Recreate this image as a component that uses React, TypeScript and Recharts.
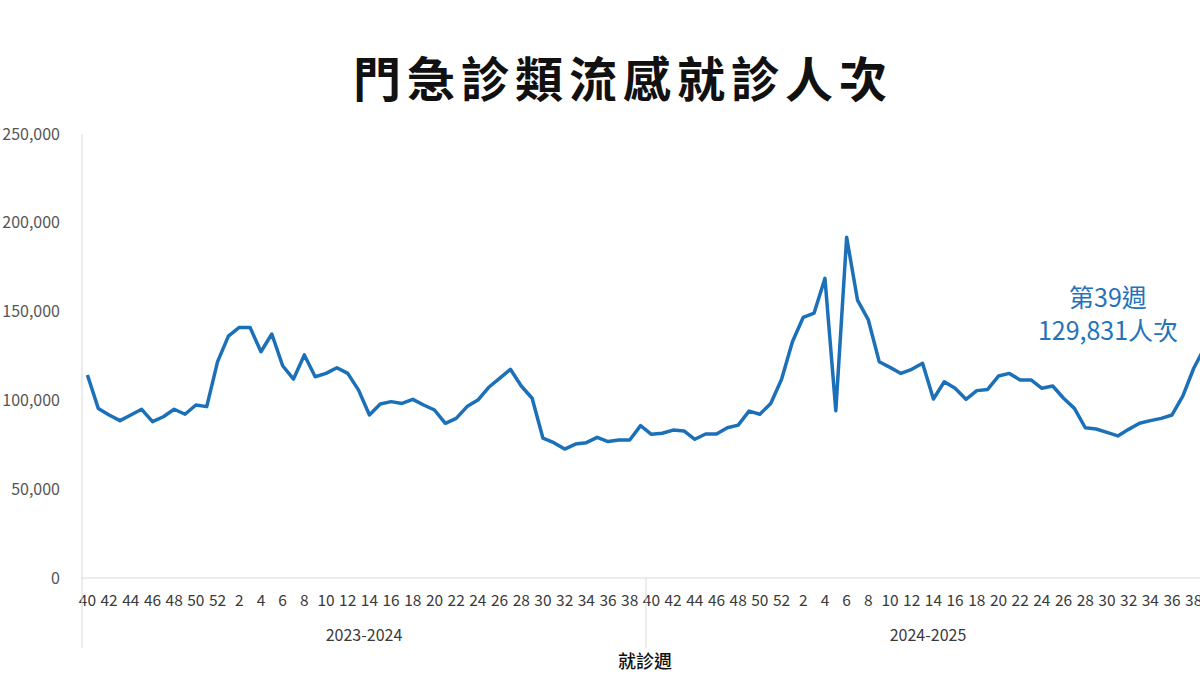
import React from 'react'
import { LineChart, Line, XAxis, YAxis } from 'recharts'

// flu-like illness ER/outpatient visits, two seasons, week 40 -> week 39
const seasons = ['2023-2024', '2024-2025']
const weeks = [
  40, 41, 42, 43, 44, 45, 46, 47, 48, 49, 50, 51, 52,
  1, 2, 3, 4, 5, 6, 7, 8, 9, 10, 11, 12, 13, 14, 15, 16, 17, 18, 19, 20,
  21, 22, 23, 24, 25, 26, 27, 28, 29, 30, 31, 32, 33, 34, 35, 36, 37, 38, 39,
]
const visits2324 = [
  114300, 95500, 91800, 88600, 91800, 95000, 88000, 90800, 95000, 92200, 97400, 96500, 121800,
  136200, 141100, 141000, 127400, 137400, 119500, 112000, 125600, 113300, 115200, 118400, 115200,
  105800, 91800, 98000, 99300, 98300, 100600, 97400, 94600, 87100, 89900, 96500, 100200, 107400,
  112400, 117500, 108100, 101200, 78700, 76200, 72600, 75400, 76200, 79200, 76800, 77700, 77700, 85800,
]
const visits2425 = [
  80900, 81500, 83300, 82800, 78100, 81100, 81100, 84600, 86100, 94000, 92200, 98300, 111900,
  133000, 146800, 149200, 168700, 94200, 191800, 156500, 145300, 121800, 118600, 115200, 117500,
  120900, 100800, 110500, 106800, 100600, 105500, 106200, 113700, 115200, 111500, 111500, 106800,
  108100, 101200, 95500, 84600, 83900, 82000, 80000, 83700, 87100, 88600, 89900, 91800, 102500,
  118100, 129831,
]
const yTicks = [0, 50000, 100000, 150000, 200000, 250000]

const data = [
  ...weeks.map((w, i) => ({ week: w, season: seasons[0], value: visits2324[i] })),
  ...weeks.map((w, i) => ({ week: w, season: seasons[1], value: visits2425[i] })),
]

const CHART_W = 1220
const CHART_H = 675
const PLOT_LEFT = 82
const PLOT_RIGHT = 1210
const BAND = (PLOT_RIGHT - PLOT_LEFT) / data.length
const FONT = '"Noto Sans CJK TC", "Noto Sans", sans-serif'
const BLUE = '#1c70b8'

const WeekTick = (props: any) => {
  const { x, y, index, payload } = props
  const per = weeks.length
  const edge = x - BAND / 2
  return (
    <g>
      {index % 2 === 0 && (
        <text x={x} y={y + 28} textAnchor="middle" fontSize={15.5} fill="#3a3a3a" fontFamily={FONT}>
          {payload.value}
        </text>
      )}
      {index % per === 0 && (
        <line x1={edge} x2={edge} y1={y} y2={y + 70} stroke="#d9d9d9" strokeWidth={1} />
      )}
      {index % per === per / 2 && (
        <text x={edge} y={y + 63} textAnchor="middle" fontSize={16} fill="#3a3a3a" fontFamily={FONT}>
          {seasons[Math.floor(index / per)]}
        </text>
      )}
    </g>
  )
}

export default function App() {
  return (
    <div
      style={{
        position: 'absolute',
        left: 0,
        top: 0,
        width: 1200,
        height: 675,
        overflow: 'hidden',
        background: '#fff',
        fontFamily: FONT,
      }}
    >
      <div
        style={{
          position: 'absolute',
          left: 0,
          top: 52,
          width: 1246,
          textAlign: 'center',
          fontSize: 48,
          lineHeight: '48px',
          fontWeight: 700,
          letterSpacing: 6,
          color: '#111',
        }}
      >
        門急診類流感就診人次
      </div>

      <LineChart
        width={CHART_W}
        height={CHART_H}
        data={data}
        margin={{ top: 134, right: CHART_W - PLOT_RIGHT, left: 0, bottom: 27 }}
      >
        <XAxis
          dataKey="week"
          interval={0}
          height={70}
          tickSize={0}
          tickMargin={0}
          tickLine={false}
          padding={{ left: BAND / 2, right: BAND / 2 }}
          axisLine={{ stroke: '#d9d9d9' }}
          tick={WeekTick}
        />
        <YAxis
          width={PLOT_LEFT}
          domain={[0, 250000]}
          ticks={yTicks}
          tickSize={0}
          tickMargin={22}
          tickLine={false}
          axisLine={{ stroke: '#d9d9d9' }}
          tick={{ fontSize: 16, fill: '#555', fontFamily: FONT }}
          tickFormatter={(v: number) => v.toLocaleString('en-US')}
        />
        <Line
          type="linear"
          dataKey="value"
          stroke={BLUE}
          strokeWidth={3.5}
          strokeLinejoin="round"
          dot={false}
          isAnimationActive={false}
        />
      </LineChart>

      <div
        style={{
          position: 'absolute',
          left: 1008,
          top: 280,
          width: 200,
          textAlign: 'center',
          fontSize: 25,
          lineHeight: '33px',
          color: '#2473ba',
        }}
      >
        <div>第39週</div>
        <div>129,831人次</div>
      </div>

      <div
        style={{
          position: 'absolute',
          left: 545,
          top: 648,
          width: 200,
          textAlign: 'center',
          fontSize: 18,
          lineHeight: '24px',
          fontWeight: 500,
          color: '#111',
        }}
      >
        就診週
      </div>
    </div>
  )
}
